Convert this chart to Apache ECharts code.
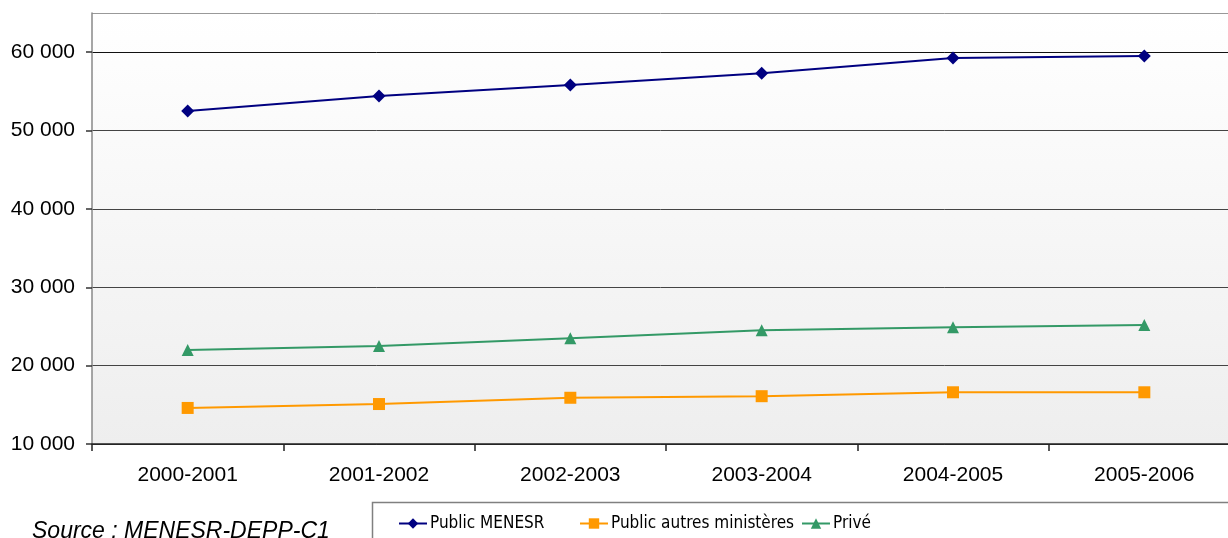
<!DOCTYPE html>
<html>
<head>
<meta charset="utf-8">
<script src="https://cdn.jsdelivr.net/npm/echarts@6/dist/echarts.min.js"></script>
<style>
  html, body { margin: 0; padding: 0; background: #ffffff; }
  #chart { width: 1228px; height: 538px; }
</style>
</head>
<body>
<div id="chart"></div>
<script>
// School years on the horizontal axis
const years = ['2000-2001', '2001-2002', '2002-2003', '2003-2004', '2004-2005', '2005-2006'];

// Headcounts per sector
const publicMenesr = [52500, 54400, 55800, 57300, 59250, 59500];
const publicAutres = [14600, 15100, 15900, 16100, 16600, 16600];
const prive = [22000, 22500, 23500, 24500, 24900, 25200];

const seriesNames = ['Public MENESR', 'Public autres ministères', 'Privé'];
const sourceText = 'Source : MENESR-DEPP-C1';

const FONT = "'Liberation Sans', Arial, sans-serif";
const NARROW = "'Liberation Sans Narrow', 'Arial Narrow', 'DejaVu Sans Condensed', 'Liberation Sans', sans-serif";

const fmt = v => String(v).replace(/\B(?=(\d{3})+(?!\d))/g, ' ');

const chart = echarts.init(document.getElementById('chart'), null, { renderer: 'canvas' });

function legendAt(name, left) {
  return {
    data: [name],
    left: left,
    top: 515,
    itemWidth: 28,
    itemHeight: 13,
    itemGap: 0,
    padding: 0,
    lineStyle: { width: 2 },
    textStyle: { fontFamily: NARROW, fontSize: 17, color: '#000', padding: [0, 0, 0, -2] },
    selectedMode: false
  };
}

chart.setOption({
  animation: false,
  title: {
    text: sourceText,
    left: 32,
    top: 520,
    padding: 0,
    textStyle: { fontFamily: FONT, fontSize: 23, fontStyle: 'italic', fontWeight: 'normal', color: '#000' }
  },
  legend: [
    legendAt(seriesNames[0], 398),
    legendAt(seriesNames[1], 579),
    legendAt(seriesNames[2], 801)
  ],
  graphic: [{
    type: 'rect',
    shape: { x: 372.5, y: 502.5, width: 900, height: 80 },
    style: { fill: 'none', stroke: '#808080', lineWidth: 1.5 },
    z: -1
  }],
  grid: {
    left: 92,
    top: 13,
    width: 1148,
    bottom: 94,
    outerBoundsMode: 'none',
    containLabel: false,
    show: true,
    borderWidth: 0,
    backgroundColor: {
      type: 'linear', x: 0, y: 0, x2: 0, y2: 1,
      colorStops: [{ offset: 0, color: '#ffffff' }, { offset: 1, color: '#eeeeee' }]
    }
  },
  xAxis: {
    type: 'category',
    data: years,
    boundaryGap: true,
    axisLine: { show: true, lineStyle: { color: '#222', width: 1.5 } },
    axisTick: { show: true, length: 7, lineStyle: { color: '#222', width: 1.5 } },
    axisLabel: { fontFamily: FONT, fontSize: 21, color: '#000', margin: 21 },
    splitLine: { show: false }
  },
  yAxis: {
    type: 'value',
    min: 10000,
    max: 65000,
    interval: 10000,
    axisLine: { show: true, lineStyle: { color: '#888', width: 1.5 } },
    axisTick: { show: true, length: 6, lineStyle: { color: '#333', width: 1.5 } },
    axisLabel: {
      fontFamily: FONT, fontSize: 21, color: '#000', margin: 17,
      showMaxLabel: false,
      formatter: v => fmt(v)
    },
    splitLine: {
      show: true,
      lineStyle: {
        color: ['#333', '#444', '#444', '#444', '#444', '#111', '#999'],
        width: [1]
      }
    }
  },
  series: [
    {
      name: seriesNames[0],
      type: 'line',
      data: publicMenesr,
      symbol: 'diamond',
      symbolSize: 13,
      lineStyle: { color: '#000080', width: 2 },
      itemStyle: { color: '#000080' }
    },
    {
      name: seriesNames[1],
      type: 'line',
      data: publicAutres,
      symbol: 'rect',
      symbolSize: 12,
      lineStyle: { color: '#ff9900', width: 2 },
      itemStyle: { color: '#ff9900' }
    },
    {
      name: seriesNames[2],
      type: 'line',
      data: prive,
      symbol: 'triangle',
      symbolSize: 12,
      lineStyle: { color: '#339966', width: 2 },
      itemStyle: { color: '#339966' }
    }
  ]
});
</script>
</body>
</html>
